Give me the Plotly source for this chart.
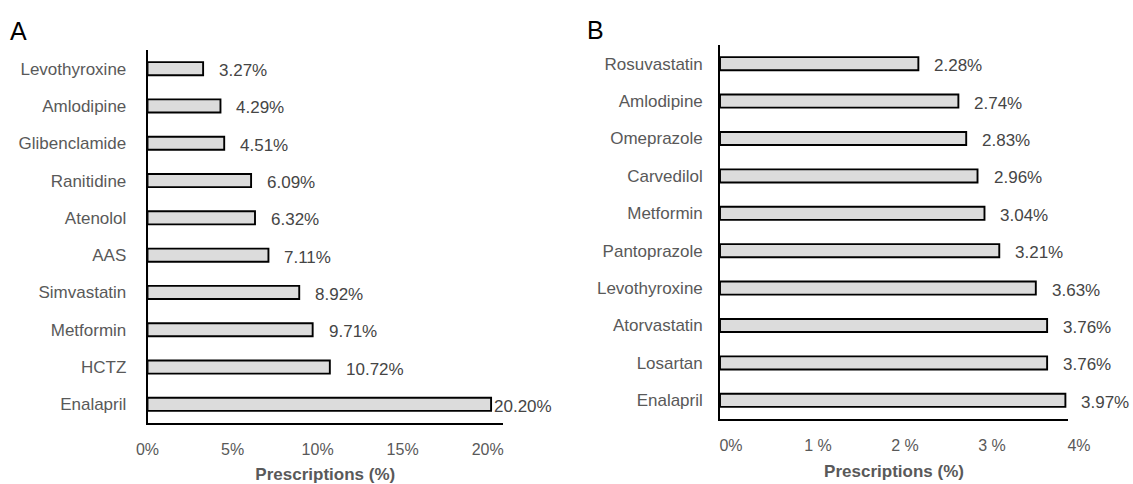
import plotly.graph_objects as go

# ---------------- data ----------------
a_drugs = ["Levothyroxine", "Amlodipine", "Glibenclamide", "Ranitidine", "Atenolol",
           "AAS", "Simvastatin", "Metformin", "HCTZ", "Enalapril"]
a_values = [3.27, 4.29, 4.51, 6.09, 6.32, 7.11, 8.92, 9.71, 10.72, 20.20]
a_ticks = [0, 5, 10, 15, 20]
a_ticktext = ["0%", "5%", "10%", "15%", "20%"]

b_drugs = ["Rosuvastatin", "Amlodipine", "Omeprazole", "Carvedilol", "Metformin",
           "Pantoprazole", "Levothyroxine", "Atorvastatin", "Losartan", "Enalapril"]
b_values = [2.28, 2.74, 2.83, 2.96, 3.04, 3.21, 3.63, 3.76, 3.76, 3.97]
b_ticks = [0, 1, 2, 3, 4]
b_ticktext = ["0%", "1 %", "2 %", "3 %", "4%"]

x_title = "Prescriptions (%)"

# ---------------- style ----------------
W, H = 1133, 484
FONT = "Liberation Sans, Arial, sans-serif"
GRAY = "#595959"
VAL = "#454545"
BAR_FILL = "#dcdcdc"


def px_x(p):
    return p / W


def px_y(p):
    return 1 - p / H


fig = go.Figure()

fig.add_trace(go.Bar(x=a_values, y=a_drugs, orientation="h", xaxis="x", yaxis="y",
                     marker=dict(color=BAR_FILL, line=dict(color="black", width=1.9)),
                     width=0.35, showlegend=False, hoverinfo="x+y"))
fig.add_trace(go.Bar(x=b_values, y=b_drugs, orientation="h", xaxis="x2", yaxis="y2",
                     marker=dict(color=BAR_FILL, line=dict(color="black", width=1.9)),
                     width=0.35, showlegend=False, hoverinfo="x+y"))

annotations = []
a_max = max(a_values)
for d, v in zip(a_drugs, a_values):
    annotations.append(dict(x=v, y=d, xref="x", yref="y", text=f"{v:.2f}%",
                            showarrow=False, xanchor="left", yanchor="middle",
                            xshift=1 if v == a_max else 14, yshift=-2,
                            font=dict(family=FONT, size=17, color=VAL)))
for d, v in zip(b_drugs, b_values):
    annotations.append(dict(x=v, y=d, xref="x2", yref="y2", text=f"{v:.2f}%",
                            showarrow=False, xanchor="left", yanchor="middle",
                            xshift=14, yshift=-2,
                            font=dict(family=FONT, size=17, color=VAL)))

annotations.append(dict(x=px_x(8), y=px_y(31), xref="paper", yref="paper", text="A",
                        showarrow=False, xanchor="left", yanchor="middle",
                        font=dict(family=FONT, size=25, color="black")))
annotations.append(dict(x=px_x(585), y=px_y(30), xref="paper", yref="paper", text="B",
                        showarrow=False, xanchor="left", yanchor="middle",
                        font=dict(family=FONT, size=25, color="black")))

axis_common = dict(showgrid=False, zeroline=False, showline=True, linecolor="black",
                   linewidth=1.6, ticks="", fixedrange=True, automargin=False)

fig.update_layout(
    width=W, height=H,
    margin=dict(l=0, r=0, t=0, b=0, pad=0),
    paper_bgcolor="white", plot_bgcolor="white",
    font=dict(family=FONT, color=GRAY),
    annotations=annotations,
    xaxis=dict(domain=[px_x(147.5), px_x(503)], range=[0, 20.9], anchor="y",
               tickmode="array", tickvals=a_ticks, ticktext=a_ticktext,
               tickfont=dict(family=FONT, size=16, color=GRAY), ticklabelstandoff=11,
               title=dict(text=f"<b>{x_title}</b>", standoff=15,
                          font=dict(family=FONT, size=17, color=GRAY)),
               **axis_common),
    yaxis=dict(domain=[px_y(423), px_y(50)], range=[9.5, -0.5], anchor="x",
               type="category", categoryorder="array", categoryarray=a_drugs,
               tickfont=dict(family=FONT, size=17, color=GRAY), ticklabelstandoff=16,
               **axis_common),
    xaxis2=dict(domain=[px_x(720), px_x(1068)], range=[0, 4.0], anchor="y2",
                tickmode="array", tickvals=b_ticks, ticktext=b_ticktext,
                tickfont=dict(family=FONT, size=16, color=GRAY), ticklabelstandoff=11,
                ticklabelshift=11,
                title=dict(text=f"<b>{x_title}</b>", standoff=12,
                           font=dict(family=FONT, size=17, color=GRAY)),
                **axis_common),
    yaxis2=dict(domain=[px_y(419), px_y(45)], range=[9.5, -0.5], anchor="x2",
                type="category", categoryorder="array", categoryarray=b_drugs,
                tickfont=dict(family=FONT, size=17, color=GRAY), ticklabelstandoff=12,
                **axis_common),
)

fig.write_html("out.html", config={"displayModeBar": False},
               post_script="document.body.style.margin='0';")
